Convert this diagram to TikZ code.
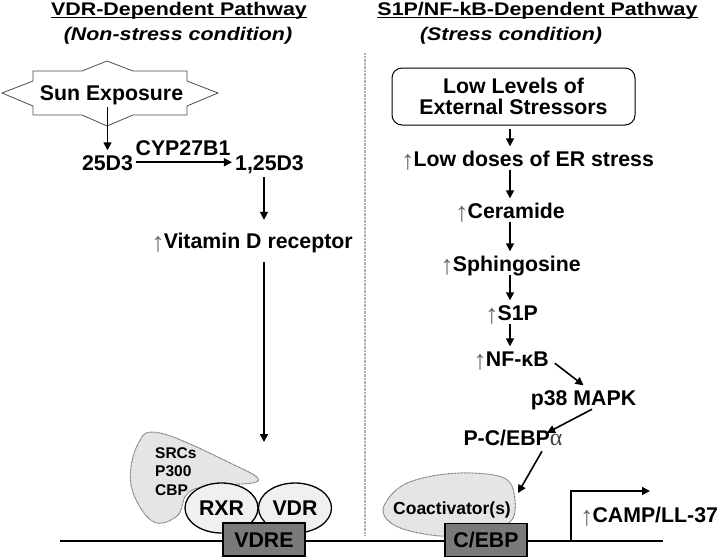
\documentclass[tikz,border=0pt]{standalone}
\usepackage{graphicx}
\usepackage{fontspec}
\setmainfont{Liberation Sans}
\newfontfamily\grkfont{Liberation Serif}
\usetikzlibrary{arrows.meta,shapes.geometric}
\definecolor{upg}{gray}{0.4}
\definecolor{blobfill}{gray}{0.9}
\definecolor{blobline}{gray}{0.45}
\definecolor{ellfill}{gray}{0.94}
\definecolor{boxfill}{gray}{0.48}
\newcommand{\uarr}{{\mdseries\color{upg}\raisebox{-3pt}{\fontsize{27}{27}\selectfont ↑}}\hspace{-1pt}}
\newcommand{\wide}[1]{\scalebox{1.17}[1]{#1}}
\begin{document}
\begin{tikzpicture}[x=1pt,y=-1pt,
  lbl/.style={font=\bfseries\fontsize{21.3}{25}\selectfont, inner xsep=3pt, inner ysep=4pt,
    text height=15.5pt, text depth=0pt, anchor=base},
  ttl/.style={lbl, inner xsep=0pt, font=\bfseries\fontsize{18.3}{22}\selectfont, text height=13pt},
  subttl/.style={lbl, font=\bfseries\itshape\fontsize{18.3}{22}\selectfont, text height=13pt},
  small/.style={font=\bfseries\fontsize{15.5}{18}\selectfont, inner sep=0pt, anchor=base west},
  arr/.style={-{Triangle[length=8pt,width=8pt]}, line width=1.6pt},
  blob/.style={fill=blobfill, draw=blobline, line width=1pt, dash pattern=on 0.8pt off 0.6pt},
  ell/.style={ellipse, draw, fill=ellfill, line width=1.3pt, minimum width=73pt, minimum height=50pt,
    inner sep=0pt, font=\bfseries\fontsize{21.3}{25}\selectfont, text height=15.5pt, text depth=0pt},
  dnabox/.style={rectangle, draw, fill=boxfill, line width=1.3pt, minimum width=82pt, minimum height=33pt,
    inner sep=0pt, font=\bfseries\fontsize{21.3}{25}\selectfont, text height=15.5pt, text depth=0pt},
]
\useasboundingbox (0,0) rectangle (717,558);

% titles
\node[ttl] (t1) at (179,15.5) {\wide{VDR-Dependent Pathway}};
\draw[line width=1.2pt] ([yshift=-1.8pt]t1.base west) -- ([yshift=-1.8pt]t1.base east);
\node[subttl] (t1b) at (178,40.5) {\wide{(Non-stress condition)}};
\node[ttl] (t2) at (537.5,15.5) {\wide{S1P/NF-kB-Dependent Pathway}};
\draw[line width=1.2pt] ([yshift=-1.8pt]t2.base west) -- ([yshift=-1.8pt]t2.base east);
\node[subttl] (t2b) at (511,40.5) {\wide{(Stress condition)}};

% divider
\coordinate (dtop) at (365,53);
\coordinate (dbot) at (365,535);
\draw[gray!60, line width=1.6pt, dash pattern=on 0.7pt off 0.7pt] (dtop) -- (dbot);

% DNA line
\coordinate (dnaL) at (60,541);
\coordinate (dnaR) at (663,541);
\draw[line width=1.3pt] (dnaL) -- (dnaR);

% ---------- left pathway ----------
\draw[line width=0.8pt, draw=black!70, fill=white]
  (2,93) -- (33,81) -- (33,71) -- (82,71) -- (107,61) -- (133,71) -- (187,71) -- (187,81)
  -- (218,93) -- (187,106) -- (187,115) -- (133,115) -- (107,126) -- (82,115) -- (33,115)
  -- (33,106) -- cycle;
\node[lbl] (sun) at (111.5,100) {Sun Exposure};
\node[lbl] (d25) at (107.5,170) {25D3};
\draw[arr, shorten <=3pt] (d25.north |- sun.south) -- (d25.north);
\node[lbl] (cyp) at (183,155) {CYP27B1};
\node[lbl] (d125) at (269.5,170) {1,25D3};
\draw[arr] (d25.east) -- (d125.west);
\coordinate (lx) at (264,0);
\node[lbl] (vit) at (252,248) {\uarr Vitamin D receptor};
\draw[arr, shorten <=3pt, shorten >=8.5pt] (lx |- d125.south) -- (lx |- vit.north);
\coordinate (vend) at (264,442);
\draw[arr, shorten <=10pt] (lx |- vit.south) -- (vend);

% coactivator blob (SRCs)
\draw[blob] plot[smooth cycle, tension=0.65] coordinates
  {(138,444) (131,485) (152,521) (177,516) (187,494) (208,486) (258,481) (228,462) (160,433)};
\node[small] (src) at (155,458) {SRCs};
\node[small] (p300) at (155,476.7) {P300};
\node[small] (cbp) at (155,495) {CBP};

\node[ell] (rxr) at (221.5,508) {RXR};
\node[ell] (vdr) at (295,508) {VDR};
\node[dnabox] (vdre) at (264,539.5) {VDRE};

% ---------- right pathway ----------
\node[draw, rounded corners=10pt, line width=1pt, minimum width=243pt, minimum height=57pt,
  align=center, inner sep=0pt, font=\bfseries\fontsize{21.3}{21}\selectfont] (llbox) at (513.5,96.5)
  {Low Levels of\\External Stressors};
\coordinate (rx) at (510,0);
\node[lbl] (ler) at (527.5,166) {\uarr Low doses of ER stress};
\draw[arr, shorten <=3pt] (rx |- llbox.south) -- (rx |- ler.north);
\node[lbl] (cer) at (510,218) {\uarr Ceramide};
\draw[arr] (rx |- ler.south) -- (rx |- cer.north);
\node[lbl] (sph) at (510.5,271) {\uarr Sphingosine};
\draw[arr] (rx |- cer.south) -- (rx |- sph.north);
\node[lbl] (s1p) at (511.5,320) {\uarr S1P};
\draw[arr] (rx |- sph.south) -- (rx |- s1p.north);
\node[lbl] (nfkb) at (511,366) {\uarr NF-κB};
\draw[arr] (rx |- s1p.south) -- (rx |- nfkb.north);
\node[lbl] (p38) at (583.5,405) {p38 MAPK};
\draw[arr] ([shift={(3,5)}]nfkb.east) -- (p38.north);
\node[lbl] (pce) at (513,445) {P-C/EBP{\grkfont\mdseries\color{black!75}\fontsize{24}{24}\selectfont α}};
\draw[arr] ([shift={(8.5,0)}]p38.south) -- ([shift={(34,7.5)}]pce.north);

\draw[blob] plot[smooth cycle, tension=0.6] coordinates
  {(383,510) (400,487) (432,476) (472,473) (506,479) (515,500) (510,522) (480,533) (440,536) (398,527)};
\node[lbl, font=\bfseries\fontsize{17.5}{20}\selectfont] (coa) at (452,514) {Coactivator(s)};
\coordinate (coatop) at (518,493);
\draw[arr] ([shift={(29,2)}]pce.south) -- (coatop);
\node[dnabox] (cebp) at (486,540) {C/EBP};

\coordinate (tss) at (571,541);
\coordinate (tssend) at (650,491);
\draw[arr] (tss) |- (tssend);
\node[lbl] (camp) at (649,522) {\uarr CAMP/LL-37};
\end{tikzpicture}
\end{document}
